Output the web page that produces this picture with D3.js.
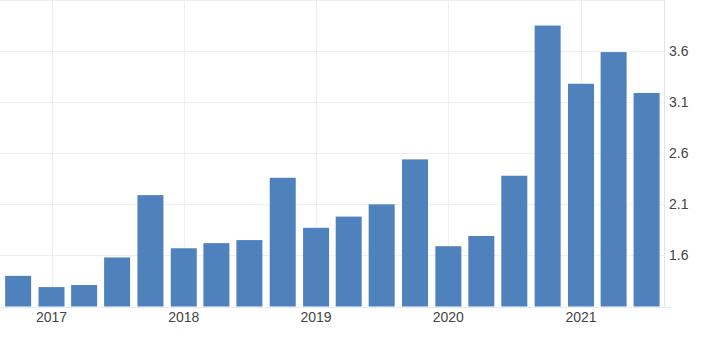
<!DOCTYPE html>
<html>
<head>
<meta charset="utf-8">
<script src="https://cdn.jsdelivr.net/npm/d3@7"></script>
<style>
  html, body { margin: 0; padding: 0; background: #fff; }
  #chart { width: 728px; height: 341px; }
</style>
</head>
<body>
<div id="chart"></div>
<script>
// Data (quarterly)
const quarters = [
  "2016-10", "2017-01", "2017-04", "2017-07",
  "2017-10", "2018-01", "2018-04", "2018-07",
  "2018-10", "2019-01", "2019-04", "2019-07",
  "2019-10", "2020-01", "2020-04", "2020-07",
  "2020-10", "2021-01", "2021-04", "2021-07"
];
const values = [
  1.40, 1.29, 1.31, 1.58,
  2.19, 1.67, 1.72, 1.75,
  2.36, 1.87, 1.98, 2.10,
  2.54, 1.69, 1.79, 2.38,
  3.85, 3.28, 3.59, 3.19
];
const yTicks = [1.6, 2.1, 2.6, 3.1, 3.6, 4.1];
const yearTicks = ["2017", "2018", "2019", "2020", "2021"];

function draw() {
  const width = 728;
  const height = 341;

  const parseDate = d3.timeParse("%Y-%m");
  const dataset = quarters.map((q, i) => ({ date: parseDate(q), value: values[i] }));

  const xAccessor = (d) => d.date;
  const yAccessor = (d) => d.value;

  const dims = { right: 664, top: 0, bottom: 306.5 };

  // year starts anchor the time scale
  const yearDates = yearTicks.map((y) => parseDate(y + "-01"));
  const xScale = d3
    .scaleTime()
    .domain([yearDates[0], yearDates[yearDates.length - 1]])
    .range([51.5, 581]);

  const yScale = d3.scaleLinear().domain([1.1, 4.1]).range([dims.bottom, dims.top]);

  const svg = d3
    .select("#chart")
    .append("svg")
    .attr("width", width)
    .attr("height", height)
    .style("font-family", "Arial, 'Liberation Sans', sans-serif");

  // horizontal grid
  svg
    .append("g")
    .selectAll("line")
    .data(yTicks)
    .join("line")
    .attr("x1", 0)
    .attr("x2", dims.right)
    .attr("y1", (d) => Math.round(yScale(d)) + 0.5)
    .attr("y2", (d) => Math.round(yScale(d)) + 0.5)
    .attr("stroke", "#efefef")
    .attr("stroke-width", 1);

  // vertical grid at years
  svg
    .append("g")
    .selectAll("line")
    .data(yearDates)
    .join("line")
    .attr("x1", (d) => Math.round(xScale(d)) + 0.5)
    .attr("x2", (d) => Math.round(xScale(d)) + 0.5)
    .attr("y1", 0)
    .attr("y2", dims.bottom)
    .attr("stroke", "#efefef")
    .attr("stroke-width", 1);

  // bars
  const barWidth = 26;
  svg
    .append("g")
    .selectAll("rect")
    .data(dataset)
    .join("rect")
    .attr("x", (d) => xScale(xAccessor(d)) - barWidth / 2)
    .attr("y", (d) => yScale(yAccessor(d)))
    .attr("width", barWidth)
    .attr("height", (d) => dims.bottom - yScale(yAccessor(d)))
    .attr("fill", "#4f81bd");

  // right axis line
  svg
    .append("line")
    .attr("x1", dims.right + 0.5)
    .attr("x2", dims.right + 0.5)
    .attr("y1", 0)
    .attr("y2", dims.bottom)
    .attr("stroke", "#dde5f0");

  // bottom line
  svg
    .append("line")
    .attr("x1", 0)
    .attr("x2", dims.right + 8)
    .attr("y1", dims.bottom + 1)
    .attr("y2", dims.bottom + 1)
    .attr("stroke", "#e6ecf5");

  // y tick labels (right side), skip the top one
  svg
    .append("g")
    .selectAll("text")
    .data(yTicks.filter((d) => d < 4))
    .join("text")
    .attr("x", 669)
    .attr("y", (d) => yScale(d))
    .attr("dy", "0.35em")
    .style("font-size", "14px")
    .style("fill", "#444")
    .text((d) => d3.format(".1f")(d));

  // x tick labels (years)
  svg
    .append("g")
    .selectAll("text")
    .data(yearDates)
    .join("text")
    .attr("x", (d) => xScale(d))
    .attr("y", 322)
    .attr("text-anchor", "middle")
    .style("font-size", "14px")
    .style("fill", "#444")
    .text((d) => d3.timeFormat("%Y")(d));
}

draw();
</script>
</body>
</html>
